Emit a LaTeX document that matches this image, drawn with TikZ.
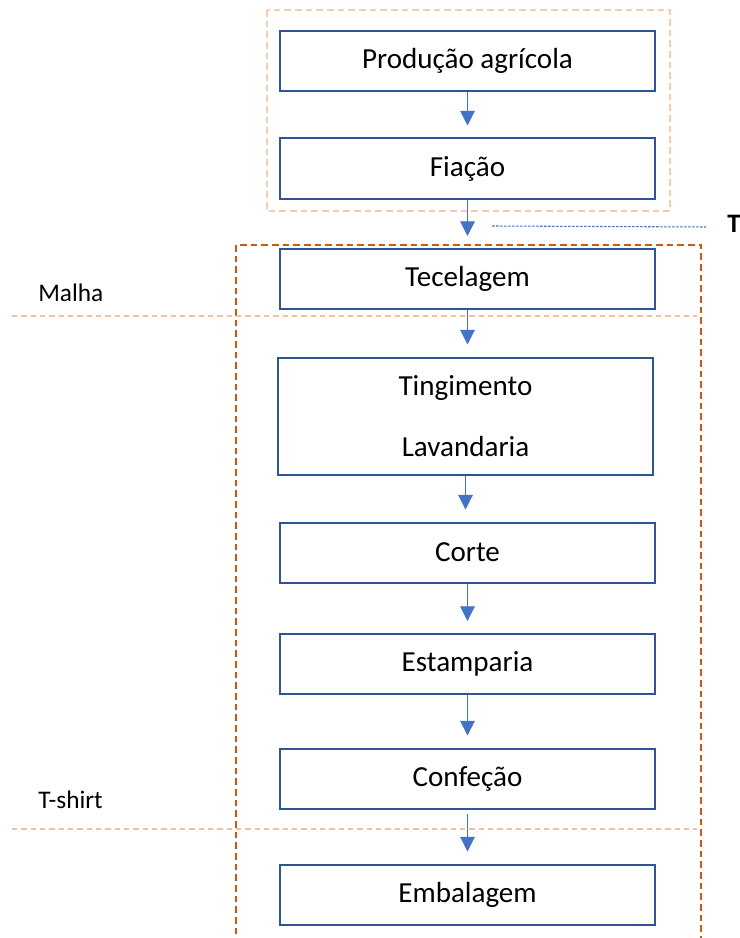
\documentclass[tikz,border=0pt]{standalone}
\usepackage{fontspec}
\setmainfont{Carlito}
\usetikzlibrary{positioning}
\usetikzlibrary{arrows.meta}
\definecolor{boxblue}{HTML}{2F5597}
\definecolor{arrowblue}{HTML}{4472C4}
\definecolor{lightorange}{HTML}{F8CBAD}
\definecolor{darkorange}{HTML}{C55A11}
\tikzset{etapa/.style={draw=boxblue, line width=1.5pt, minimum width=281pt, minimum height=45pt, inner sep=0pt, font=\fontsize{21.8}{26}\selectfont}}
\tikzset{seta/.style={draw=arrowblue, line width=0.8pt, -{Triangle[width=11pt,length=11pt]}, shorten >=9pt}}
\tikzset{rotulo/.style={anchor=west, inner sep=0pt, font=\fontsize{19}{23}\selectfont}}

\begin{document}
\begin{tikzpicture}[x=0.75pt,y=-0.75pt]
\useasboundingbox (0,0) rectangle (739,938);
\clip (0,0) rectangle (739,938);
% etapas
\node[etapa] (prod) at (467.5,61) {Produção agrícola};
\node[etapa] (fia) at (467.5,168.5) {Fiação};
\node[etapa] (tec) at (467.5,279) {Tecelagem};
\node[etapa, minimum height=87.75pt, align=center] (ting) at (465.5,416) {Tingimento\\[20pt]Lavandaria};
\node[etapa] (cor) at (467.5,552.5) {Corte};
\node[etapa] (est) at (467.5,664) {Estamparia};
\node[etapa] (conf) at (467.5,778.5) {Confeção};
\node[etapa] (emb) at (467.5,894.5) {Embalagem};
% setas
\draw[seta] (prod.south) -- (prod.south |- fia.north);
\draw[seta] (fia.south) -- (fia.south |- tec.north);
\draw[seta] (tec.south) -- (tec.south |- ting.north);
\draw[seta] (ting.south) -- (ting.south |- cor.north);
\draw[seta] (cor.south) -- (cor.south |- est.north);
\draw[seta] (est.south) -- (est.south |- conf.north);
\draw[seta, shorten <=3pt] (conf.south) -- (conf.south |- emb.north);
% caixas tracejadas
\draw[lightorange, line width=1.2pt, dash pattern=on 5pt off 3pt] (267,10) rectangle (670,211);
\draw[darkorange, line width=1.6pt, dash pattern=on 5pt off 3pt] (236,945) -- (236,245) -- (701,245) -- (701,945);
% divisorias
\coordinate (malhaA) at (12,316);
\coordinate (malhaB) at (697,316);
\coordinate (tshirtA) at (12,829);
\coordinate (tshirtB) at (697,829);
\draw[lightorange!90!darkorange, line width=0.8pt, dash pattern=on 4pt off 3pt] (malhaA) -- (malhaB);
\draw[lightorange!90!darkorange, line width=0.8pt, dash pattern=on 4pt off 3pt] (tshirtA) -- (tshirtB);
\node[rotulo] (malha) at (38,293) {Malha};
\node[rotulo] (tshirt) at (38,800) {T-shirt};
% ligacao
\node[anchor=west, inner sep=0pt, font=\fontsize{20}{24}\selectfont\bfseries] (txt) at (727,224) {T};
\coordinate (ligA) at (492,226);
\coordinate (ligB) at (706,227);
\draw[arrowblue, line width=0.8pt, dash pattern=on 2pt off 1pt] (ligA) -- (ligB);
\end{tikzpicture}
\end{document}
